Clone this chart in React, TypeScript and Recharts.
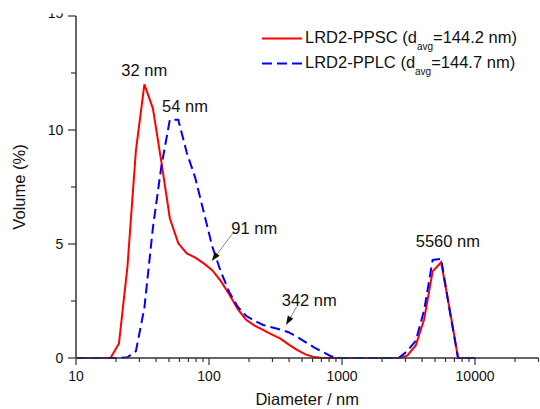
import {
  LineChart,
  Line,
  XAxis,
  YAxis,
  Legend,
  ReferenceDot,
  ReferenceLine,
} from "recharts";

// Size bins (nm) and volume distributions (%)
const diameters = [
  10.1, 11.7, 13.54, 15.69, 18.17, 21.04, 24.36, 28.21, 32.67, 37.84, 43.82, 50.75,
  58.77, 68.06, 78.82, 91.28, 105.7, 122.4, 141.8, 164.2, 190.1, 220.2, 255.0, 295.3,
  342.0, 396.1, 458.7, 531.2, 615.1, 712.4, 825.0, 955.4, 1106, 1281, 1484, 1718,
  1990, 2305, 2669, 3091, 3580, 4145, 4801, 5560, 6439, 7456, 8635, 10000,
];
const ppsc = [
  0, 0, 0, 0, 0, 0.64, 4.0, 9.1, 12.0, 10.95, 8.6, 6.13,
  5.03, 4.59, 4.4, 4.15, 3.85, 3.38, 2.8, 2.15, 1.68, 1.42, 1.23, 1.04,
  0.86, 0.6, 0.36, 0.16, 0.04, 0, 0, 0, 0, 0, 0, 0,
  0, 0, 0, 0.1, 0.55, 1.7, 3.8, 4.2, 2.15, 0, 0, 0,
];
const pplc = [
  0, 0, 0, 0, 0, 0, 0.03, 0.3, 2.2, 5.7, 8.4, 10.45,
  10.45, 9.0, 7.9, 6.4, 4.9, 3.8, 2.9, 2.25, 1.85, 1.63, 1.45, 1.35,
  1.25, 1.13, 0.93, 0.7, 0.47, 0.27, 0.08, 0, 0, 0, 0, 0,
  0, 0, 0, 0.3, 0.75, 2.1, 4.3, 4.35, 2.1, 0, 0, 0,
];

const seriesNames = ["LRD2-PPSC", "LRD2-PPLC"];
const avgDiameters = ["144.2", "144.7"];

const xMajorTicks = [10, 100, 1000, 10000];
const xTicks = [
  10, 20, 30, 40, 50, 60, 70, 80, 90,
  100, 200, 300, 400, 500, 600, 700, 800, 900,
  1000, 2000, 3000, 4000, 5000, 6000, 7000, 8000, 9000,
  10000, 20000, 30000,
];
const yMajorTicks = [0, 5, 10, 15];
const yTicks = [0, 2.5, 5, 7.5, 10, 12.5, 15];

const peakLabels = [
  { text: "32 nm", x: 32.6, y: 12.36 },
  { text: "54 nm", x: 66.0, y: 10.8 },
  { text: "91 nm", x: 218.7, y: 5.42 },
  { text: "342 nm", x: 566.8, y: 2.26 },
  { text: "5560 nm", x: 6246, y: 4.89 },
];
const arrows = [
  { x1: 151.5, y1: 5.48, x2: 104.8, y2: 4.25 },
  { x1: 456.4, y1: 2.25, x2: 379.2, y2: 1.45 },
];

const data = diameters.map((d, i) => ({ d, ppsc: ppsc[i], pplc: pplc[i] }));

const font = "'Liberation Sans', Arial, sans-serif";
const axisColor = "#333";
const colors = ["#ff0000", "#0000ff"];
const dashes = [undefined, "10 5"];

const XTick = ({ x, y, payload }: any) => {
  const major = xMajorTicks.includes(payload.value);
  return (
    <g>
      <line x1={x} x2={x} y1={y} y2={y + (major ? 7 : 4)} stroke={axisColor} strokeWidth={1.2} />
      {major && (
        <text x={x} y={y + 23} textAnchor="middle" fontSize={14} fontFamily={font} fill="#111">
          {payload.value}
        </text>
      )}
    </g>
  );
};

const YTick = ({ x, y, payload }: any) => {
  const v = payload.value;
  const major = yMajorTicks.includes(v);
  const top = v === 15;
  return (
    <g>
      <line x1={x - (major ? 8 : 5)} x2={x} y1={y} y2={y} stroke={axisColor} strokeWidth={1.2} />
      {top && (
        <defs>
          <clipPath id="topTickClip">
            <rect x={x - 40} y={y - 2.5} width={40} height={20} />
          </clipPath>
        </defs>
      )}
      {major && (
        <text
          x={x - 12.7}
          y={top ? y + 2.3 : y + 5}
          textAnchor="end"
          fontSize={14}
          fontFamily={font}
          fill="#111"
          clipPath={top ? "url(#topTickClip)" : undefined}
        >
          {v}
        </text>
      )}
    </g>
  );
};

const Arrow = (p: any) => {
  const { x1, y1, x2, y2 } = p;
  const ang = Math.atan2(y2 - y1, x2 - x1);
  const len = 9;
  const w = 3.2;
  const bx = x2 - len * Math.cos(ang);
  const by = y2 - len * Math.sin(ang);
  const pts = [
    `${x2},${y2}`,
    `${bx + w * Math.sin(ang)},${by - w * Math.cos(ang)}`,
    `${bx - w * Math.sin(ang)},${by + w * Math.cos(ang)}`,
  ].join(" ");
  return (
    <g>
      <line x1={x1} y1={y1} x2={bx} y2={by} stroke="#666" strokeWidth={0.8} />
      <polygon points={pts} fill="#111" />
    </g>
  );
};

const renderLegend = () => (
  <div style={{ fontFamily: font, fontSize: 16.5, color: "#111" }}>
    {seriesNames.map((name, i) => (
      <div key={name} style={{ display: "flex", alignItems: "center", height: 25, whiteSpace: "nowrap" }}>
        <svg width={40} height={25} style={{ display: "block" }}>
          <line x1={0} x2={40} y1={12.5} y2={12.5} stroke={colors[i]} strokeWidth={2} strokeDasharray={dashes[i]} />
        </svg>
        <span style={{ marginLeft: 3, lineHeight: "25px" }}>
          {name} (d
          <span style={{ fontSize: 10, position: "relative", top: 7 }}>avg</span>={avgDiameters[i]} nm)
        </span>
      </div>
    ))}
  </div>
);

export default function App() {
  return (
    <div style={{ position: "absolute", left: 0, top: 0, background: "#fff" }}>
      <LineChart width={540} height={409} data={data} margin={{ top: 16, right: 1.5, bottom: 0, left: 0 }}>
        <XAxis
          dataKey="d"
          type="number"
          scale="log"
          domain={[10, 30000]}
          allowDataOverflow
          ticks={xTicks}
          interval={0}
          tick={<XTick />}
          tickSize={0}
          tickMargin={0}
          height={51}
          axisLine={{ stroke: axisColor, strokeWidth: 1.5 }}
          label={{
            content: ({ viewBox }: any) => (
              <text
                x={viewBox.x + viewBox.width / 2}
                y={viewBox.y + 47}
                textAnchor="middle"
                fontSize={16.5}
                fontFamily={font}
                fill="#111"
              >
                Diameter / nm
              </text>
            ),
          }}
        />
        <YAxis
          type="number"
          domain={[0, 15]}
          ticks={yTicks}
          interval={0}
          tick={<YTick />}
          tickSize={0}
          tickMargin={0}
          width={76}
          axisLine={{ stroke: axisColor, strokeWidth: 1.5 }}
          label={{
            content: ({ viewBox }: any) => {
              const cx = viewBox.x + 19;
              const cy = viewBox.y + viewBox.height / 2;
              return (
                <text
                  x={cx}
                  y={cy}
                  transform={`rotate(-90, ${cx}, ${cy})`}
                  textAnchor="middle"
                  dominantBaseline="central"
                  fontSize={16.5}
                  fontFamily={font}
                  fill="#111"
                >
                  Volume (%)
                </text>
              );
            },
          }}
        />
        <Legend
          content={renderLegend}
          layout="horizontal"
          verticalAlign="middle"
          align="center"
          wrapperStyle={{ top: 26, left: 262, width: 275, height: 50 }}
        />
        <Line
          dataKey="ppsc"
          name={seriesNames[0]}
          stroke={colors[0]}
          strokeWidth={2}
          dot={false}
          activeDot={false}
          isAnimationActive={false}
        />
        <Line
          dataKey="pplc"
          name={seriesNames[1]}
          stroke={colors[1]}
          strokeWidth={2}
          strokeDasharray={dashes[1]}
          dot={false}
          activeDot={false}
          isAnimationActive={false}
        />
        {arrows.map((a, i) => (
          <ReferenceLine
            key={`arrow-${i}`}
            segment={[
              { x: a.x1, y: a.y1 },
              { x: a.x2, y: a.y2 },
            ]}
            shape={Arrow}
          />
        ))}
        {peakLabels.map((p) => (
          <ReferenceDot
            key={p.text}
            x={p.x}
            y={p.y}
            r={0}
            shape={(s: any) => (
              <text x={s.cx} y={s.cy} textAnchor="middle" fontSize={16.5} fontFamily={font} fill="#111">
                {p.text}
              </text>
            )}
          />
        ))}
      </LineChart>
    </div>
  );
}
